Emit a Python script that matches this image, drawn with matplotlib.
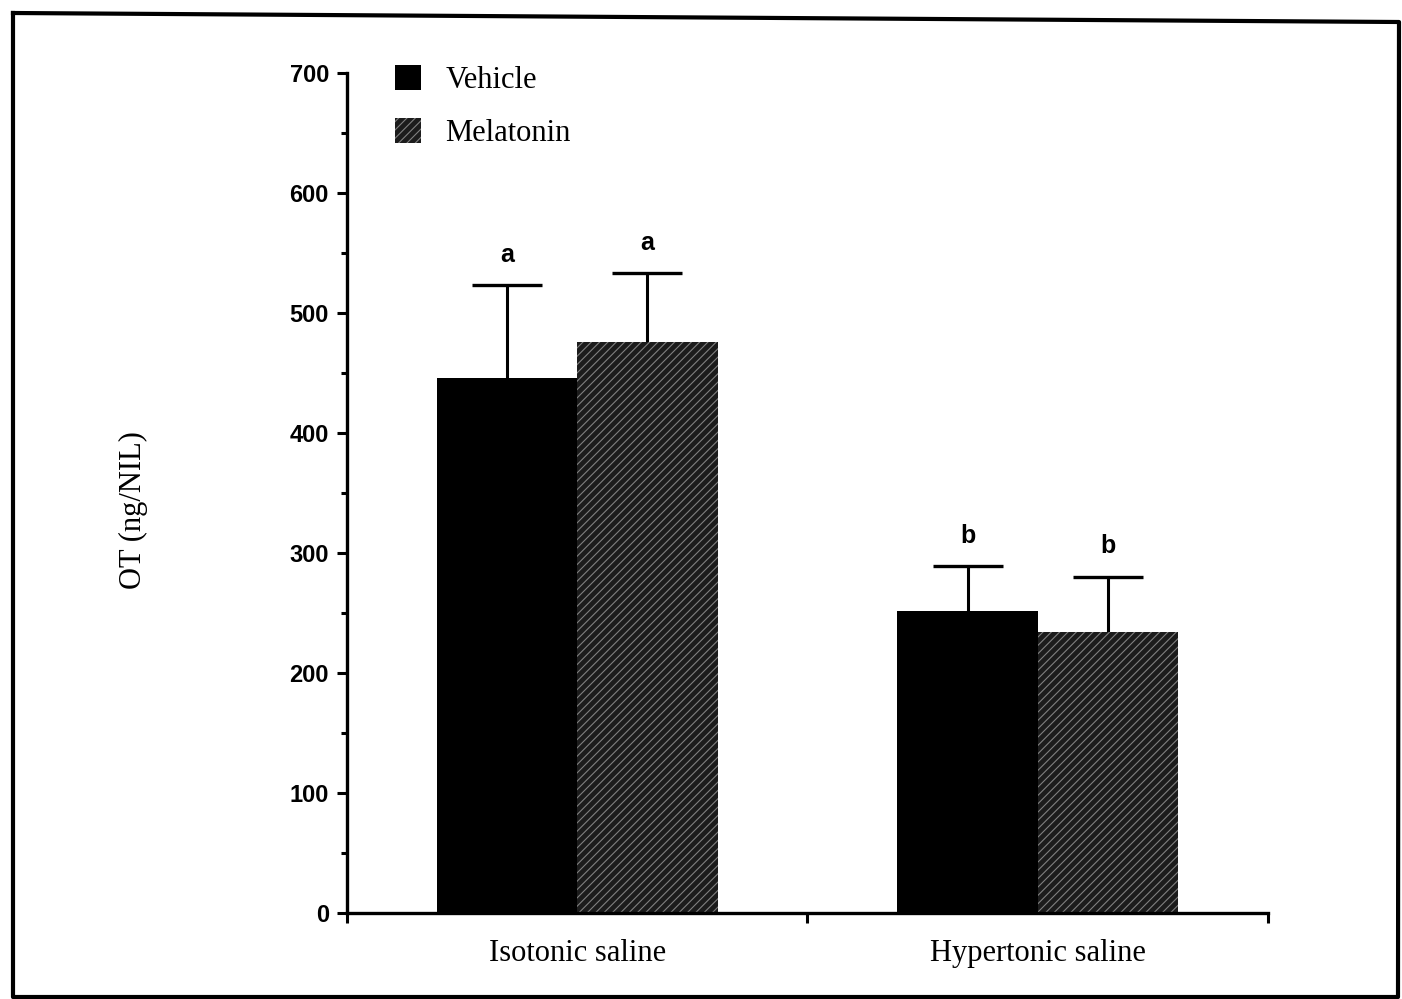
import numpy as np
import matplotlib
matplotlib.use("Agg")
from matplotlib import pyplot as plt
from matplotlib.patches import Patch
from matplotlib.lines import Line2D

# data
groups = ["Isotonic saline", "Hypertonic saline"]
treatments = ["Vehicle", "Melatonin"]
vehicle_mean = [446, 252]
vehicle_err = [77, 37]
melatonin_mean = [476, 234]
melatonin_err = [57, 46]
vehicle_letters = ["a", "b"]
melatonin_letters = ["a", "b"]

plt.rcParams['hatch.linewidth'] = 0.8
serif = ['Liberation Serif', 'DejaVu Serif']
sans = ['Liberation Sans', 'DejaVu Sans']
hatch_col = '#808080'

fig = plt.figure(figsize=(14.02, 9.99), dpi=100)
ax = fig.add_axes([0.2475, 0.0861, 0.6569, 0.8408])

centers = np.arange(len(groups)) + 0.5
w = 0.305

ax.bar(centers - w/2, vehicle_mean, w, color='black', linewidth=0, zorder=2)
ax.bar(centers + w/2, melatonin_mean, w, facecolor='#1c1c1c', edgecolor=hatch_col,
       hatch='////', linewidth=0, zorder=2)

# symmetric bars drawn behind the columns so only the upper half shows
for xs, m, e in [(centers - w/2, vehicle_mean, vehicle_err),
                 (centers + w/2, melatonin_mean, melatonin_err)]:
    ax.errorbar(xs, m, yerr=e, fmt='none', ecolor='black',
                elinewidth=2.2, capsize=25, capthick=2.4, zorder=1)

for xs, m, e, lab in [(centers - w/2, vehicle_mean, vehicle_err, vehicle_letters),
                      (centers + w/2, melatonin_mean, melatonin_err, melatonin_letters)]:
    for xi, mi, ei, li in zip(xs, m, e, lab):
        ax.annotate(li, (xi, mi + ei), xytext=(0, 22), textcoords='offset points',
                    ha='center', va='center', fontsize=18, fontweight='bold',
                    family=sans)

ax.set_xlim(0, 2)
ax.set_ylim(0, 700)
ax.set_yticks(np.arange(0, 701, 100))
ax.set_yticks(np.arange(50, 700, 100), minor=True)
ax.set_xticks([0, 1, 2])
ax.set_xticklabels([])
ax.set_xticks(centers, minor=True)
ax.set_xticklabels(groups, minor=True, family=serif, fontsize=22)
ax.tick_params(axis='x', which='minor', length=0, pad=19)
ax.tick_params(axis='x', which='major', length=7, width=2.2, direction='out')
ax.tick_params(axis='y', which='major', length=7, width=2.2, direction='out', pad=6)
ax.tick_params(axis='y', which='minor', length=4, width=2.2, direction='out')
for t in ax.get_yticklabels():
    t.set_family(sans)
    t.set_fontsize(17)
    t.set_fontweight('bold')

for s in ['top', 'right']:
    ax.spines[s].set_visible(False)
for s in ['left', 'bottom']:
    ax.spines[s].set_linewidth(2.4)

ax.set_ylabel("OT (ng/NIL)", family=serif, fontsize=22)
ax.yaxis.set_label_coords(-0.216, 0.48)

handles = [Patch(facecolor='black', linewidth=0),
           Patch(facecolor='#1c1c1c', edgecolor=hatch_col, hatch='////', linewidth=0)]
ax.legend(handles, treatments, loc='upper left', bbox_to_anchor=(0.052, 1.009),
          borderaxespad=0, borderpad=0,
          frameon=False, prop={'family': serif, 'size': 22},
          handlelength=0.85, handleheight=0.85, labelspacing=0.75, handletextpad=0.8)

# scanned frame around the figure
fig.add_artist(Line2D([13/1402, 1399/1402, 1398/1402, 13/1402, 13/1402],
                      [1-13/999, 1-22/999, 1-997/999, 1-997/999, 1-13/999],
                      color='black', linewidth=3, transform=fig.transFigure))

fig.savefig('out.png', dpi=100)
